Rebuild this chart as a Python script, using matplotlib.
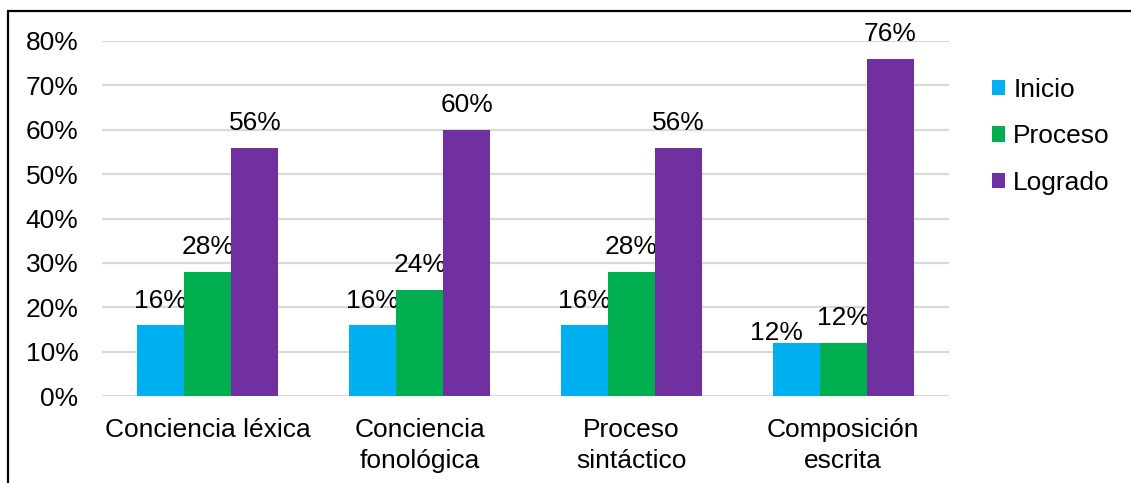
import numpy as np
import matplotlib
matplotlib.use('Agg')
import matplotlib.pyplot as plt
from matplotlib.patches import Rectangle

plt.rcParams['font.family'] = ['Liberation Sans', 'DejaVu Sans']

categories = ['Conciencia léxica', 'Conciencia\nfonológica', 'Proceso\nsintáctico', 'Composición\nescrita']
series = ['Inicio', 'Proceso', 'Logrado']
inicio = [16, 16, 16, 12]
proceso = [28, 24, 28, 12]
logrado = [56, 60, 56, 76]
colors = ['#00B0F0', '#00B050', '#7030A0']
yticks = [0, 10, 20, 30, 40, 50, 60, 70, 80]

W, H = 1131, 483
fs = 19
fig = plt.figure(figsize=(W / 100, H / 100), dpi=100)
ax = fig.add_axes([102 / W, 1 - 396 / H, (949 - 102) / W, (396 - 41) / H])

x = np.arange(len(categories))
width = 0.222
values = [inicio, proceso, logrado]
for i, (name, vals, c) in enumerate(zip(series, values, colors)):
    pos = x + (i - 1) * width
    ax.bar(pos, vals, width, color=c, label=name, zorder=3)
    for j, (px, v) in enumerate(zip(pos, vals)):
        dx, dy = 0, 12.6
        # last group: excel nudged the overlapping label
        if j == 3 and i == 0:
            dx, dy = -14, 2
        ax.annotate(f'{v}%', (px, v), xytext=(dx, dy), textcoords='offset points',
                    ha='center', va='baseline', fontsize=fs, color='black')

ax.set_xlim(-0.5, len(categories) - 0.5)
ax.set_ylim(0, 80)
ax.set_yticks(yticks)
ax.set_yticklabels([f'{t}%' for t in yticks])
ax.set_xticks(x)
ax.set_xticklabels(categories, linespacing=1.36)
ax.tick_params(axis='both', length=0, labelsize=fs)
ax.tick_params(axis='y', pad=17)
ax.tick_params(axis='x', pad=16)
ax.yaxis.grid(True, color='#D9D9D9', linewidth=1.6, zorder=0)
ax.set_axisbelow(True)
for s in ax.spines.values():
    s.set_visible(False)

leg = ax.legend(loc='upper left', bbox_to_anchor=(981 / W, 1 - 67 / H),
                bbox_transform=fig.transFigure, frameon=False, fontsize=fs,
                handlelength=0.52, handleheight=0.52, handletextpad=0.3,
                labelspacing=0.86, borderaxespad=0)

fig.add_artist(Rectangle((8 / W, -0.1), 1.2, 1.1 - 11 / H, transform=fig.transFigure,
                         fill=False, edgecolor='black', linewidth=1.6))

fig.savefig('out.png', dpi=100)
